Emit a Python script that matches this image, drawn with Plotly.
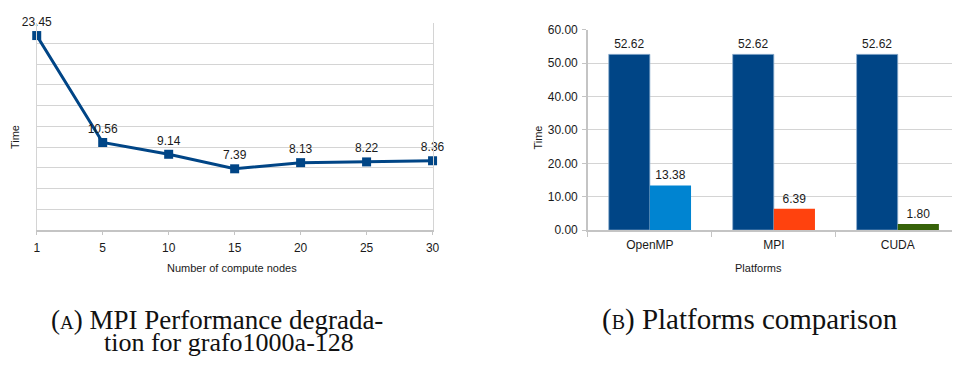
import plotly.graph_objects as go

# ---- data ----
nodes = ["1", "5", "10", "15", "20", "25", "30"]
mpi_time = [23.45, 10.56, 9.14, 7.39, 8.13, 8.22, 8.36]

platforms = ["OpenMP", "MPI", "CUDA"]
sequential_time = [52.62, 52.62, 52.62]
parallel_time = [13.38, 6.39, 1.80]
parallel_colors = ["#0084d1", "#ff420e", "#366209"]

W, H = 960, 365
OFF = 8  # page body margin offset
def px(x):
    return (x - OFF) / W
def py(y):
    return 1 - (y - OFF) / H

FONT = "Liberation Sans"
SERIF = "Liberation Serif"
TXT = "#1a1a1a"
GRID = "#d4d4d4"
AXL = "#c4c4c4"

fig = go.Figure()

# Left: line chart
fig.add_trace(go.Scatter(
    x=nodes, y=mpi_time, mode="lines+markers+text",
    line=dict(color="#004586", width=3),
    marker=dict(symbol="square", size=9, color="#004586"),
    text=[f"{v:.2f}" for v in mpi_time], textposition="top center",
    textfont=dict(family=FONT, size=12, color=TXT),
    cliponaxis=False, showlegend=False, xaxis="x", yaxis="y"))

# Right: bars
fig.add_trace(go.Bar(
    x=platforms, y=sequential_time,
    marker=dict(color="#004586", line=dict(color="#8fb0cf", width=0.8)),
    text=[f"{v:.2f}" for v in sequential_time], textposition="outside",
    textfont=dict(family=FONT, size=12, color=TXT),
    cliponaxis=False, showlegend=False, xaxis="x2", yaxis="y2"))
fig.add_trace(go.Bar(
    x=platforms, y=parallel_time, marker=dict(color=parallel_colors, line=dict(width=0)),
    text=[f"{v:.2f}" for v in parallel_time], textposition="outside",
    textfont=dict(family=FONT, size=12, color=TXT),
    cliponaxis=False, showlegend=False, xaxis="x2", yaxis="y2"))

tickfont = dict(family=FONT, size=12, color=TXT)

fig.update_layout(
    width=W, height=H, margin=dict(l=0, r=0, t=0, b=0),
    paper_bgcolor="white", plot_bgcolor="white",
    font=dict(family=FONT),
    barmode="group", bargap=0.336, bargroupgap=0,
    xaxis=dict(domain=[px(34), px(434)], type="category", range=[0, 6],
               showgrid=False, showline=True, linecolor=AXL, linewidth=2,
               ticks="outside", ticklen=3, tickcolor=AXL, tickwidth=1,
               tickfont=tickfont, anchor="y", zeroline=False, ticklabelstandoff=2),
    yaxis=dict(domain=[py(231.7), py(16)], range=[0, 25], dtick=2.5,
               showgrid=True, gridcolor=GRID, gridwidth=1,
               showline=True, linecolor=GRID, mirror=True,
               showticklabels=False, ticks="", zeroline=False, anchor="x"),
    xaxis2=dict(domain=[px(591), px(966.7)], type="category", range=[-0.5, 2.5],
                showgrid=False, showline=True, linecolor=AXL, linewidth=2,
                ticks="outside", ticklen=5, tickcolor=AXL, tickson="boundaries",
                tickfont=tickfont, anchor="y2", zeroline=False, ticklabelstandoff=2),
    yaxis2=dict(domain=[py(231.7), py(23.3)], range=[0, 60], dtick=10,
                tickformat=".2f", showgrid=True, gridcolor=GRID, gridwidth=1,
                showline=True, linecolor=AXL, linewidth=1.5,
                ticks="outside", ticklen=4, tickcolor=AXL,
                tickfont=tickfont, anchor="x2", zeroline=False,
                ticklabelstandoff=2),
)

ann = []
def label(text, x, y, size=11, angle=0, xanchor="center", family=FONT, color=TXT):
    ann.append(dict(text=text, x=px(x), y=py(y), xref="paper", yref="paper",
                    showarrow=False, textangle=angle, xanchor=xanchor, yanchor="middle",
                    font=dict(family=family, size=size, color=color)))

label("Time", 12, 135, size=11, angle=-90)
label("Number of compute nodes", 231, 271, size=11)
label("Time", 541, 135, size=11, angle=-90)
label("Platforms", 763, 271, size=11)

label("(" + '<span style="font-size:19px">A</span>' + ") MPI Performance degrada-",
      46, 325, size=27, xanchor="left", family=SERIF, color="#111")
label("tion for grafo1000a-128", 100, 349, size=26, xanchor="left", family=SERIF, color="#111")
label("(" + '<span style="font-size:20px">B</span>' + ") Platforms comparison",
      603, 325, size=29, xanchor="left", family=SERIF, color="#111")

fig.update_layout(annotations=ann)
fig.write_html("out.html")
